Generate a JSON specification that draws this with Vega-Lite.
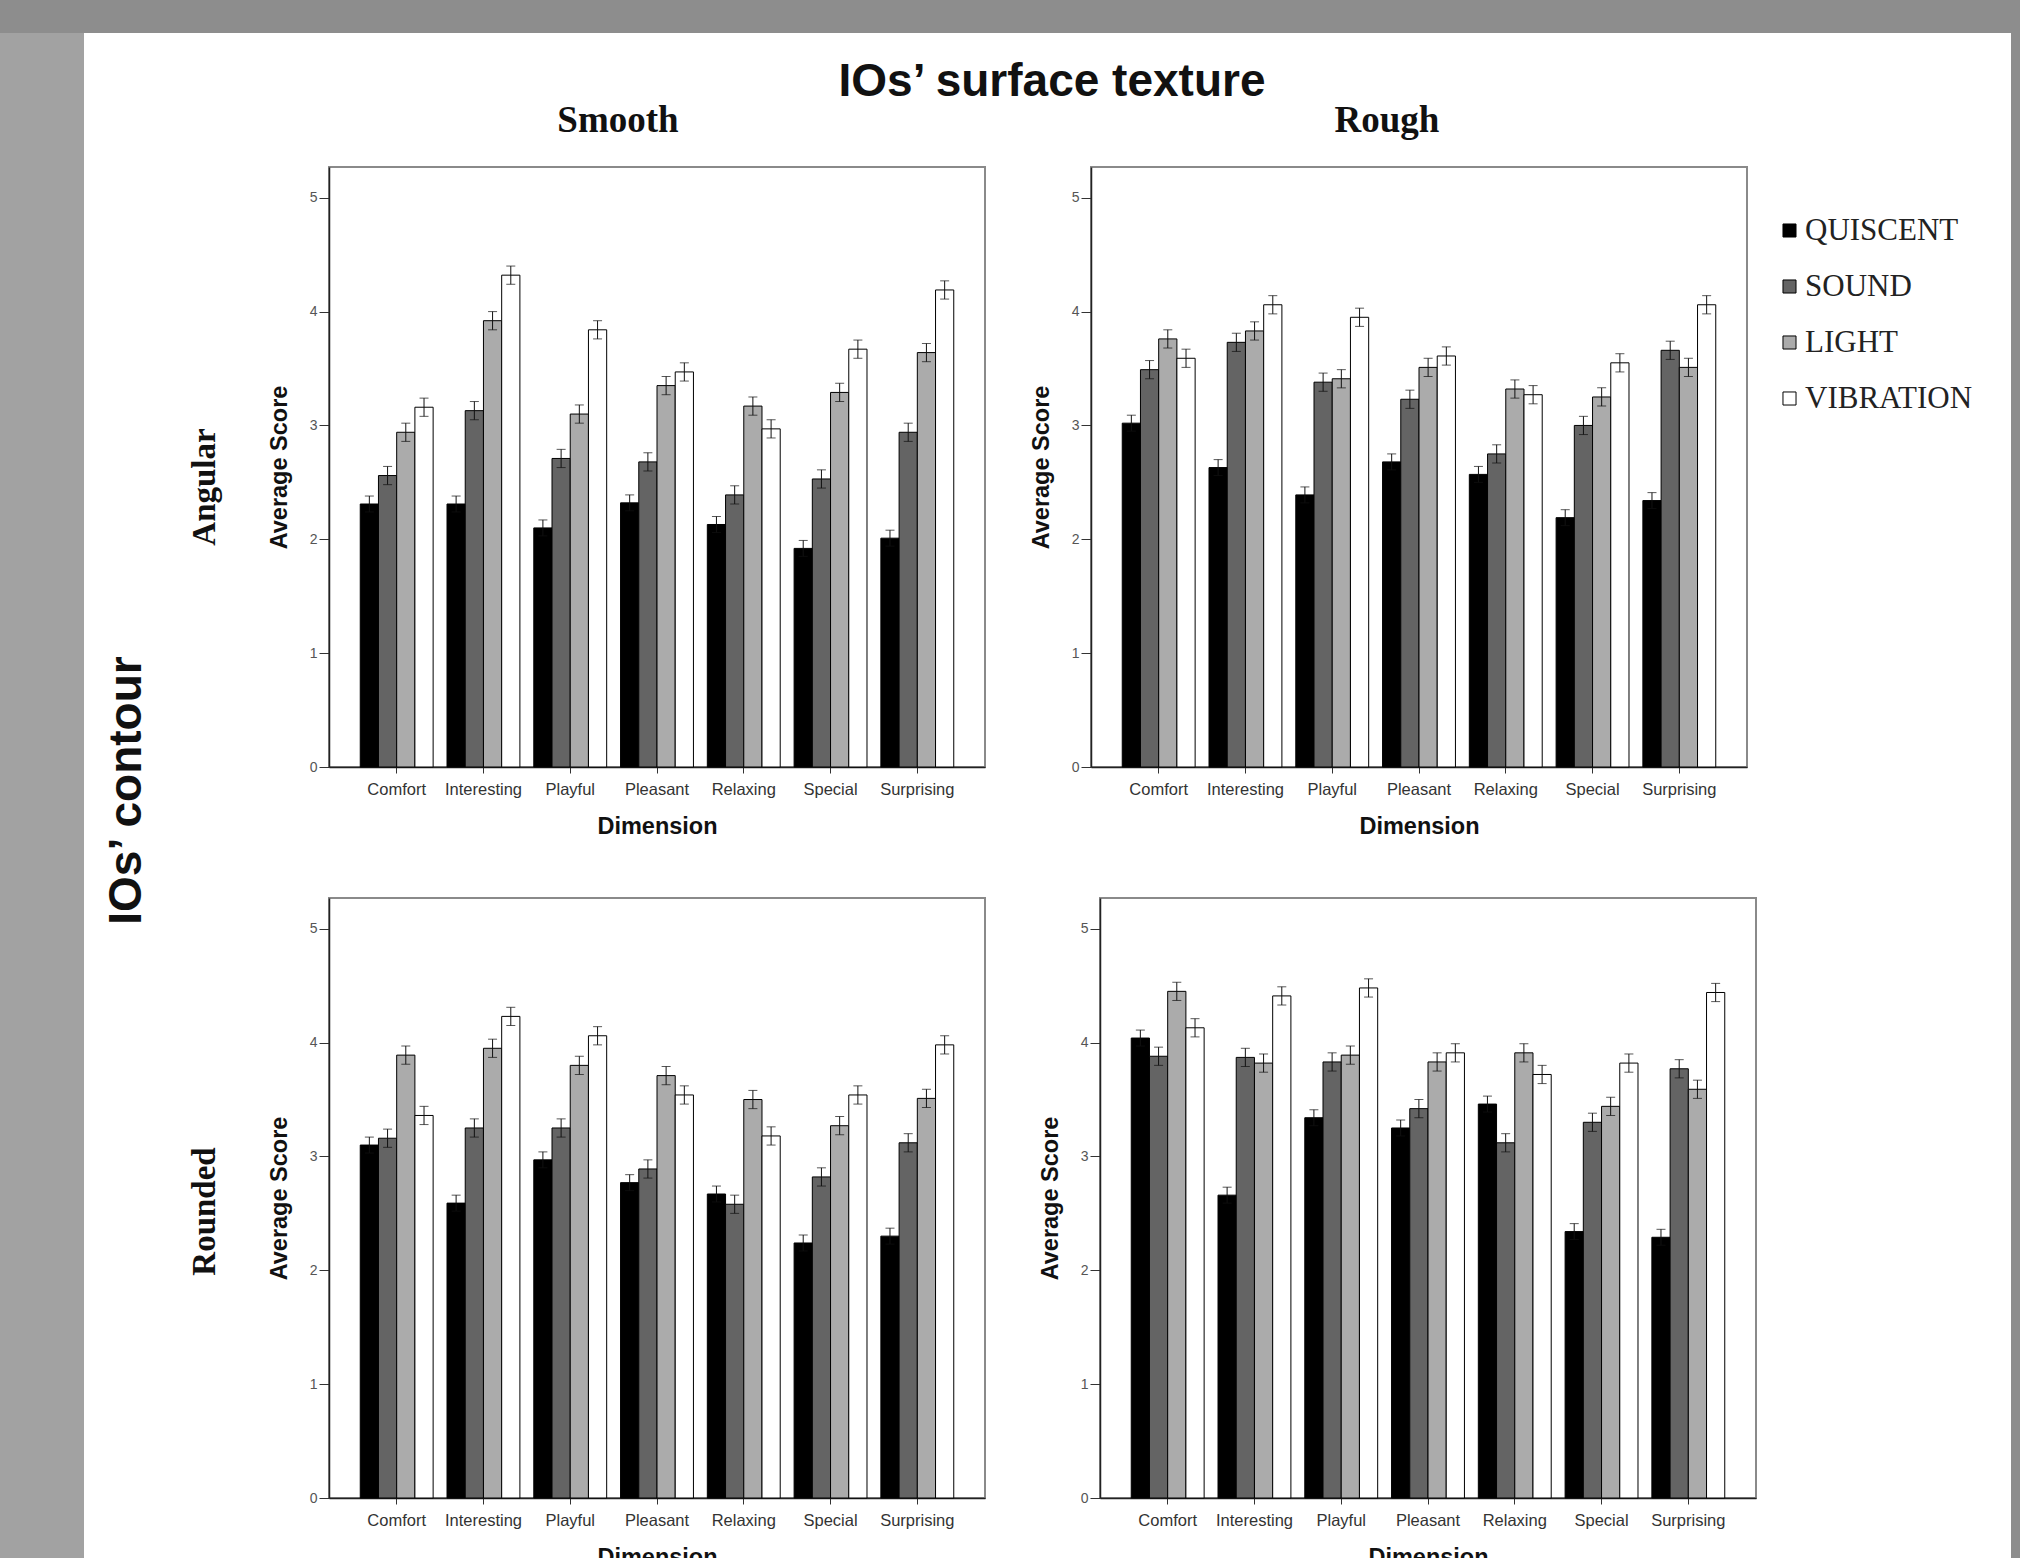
{
  "$schema": "https://vega.github.io/schema/vega-lite/v6.json",
  "background": "white",
  "padding": 0,
  "spacing": 0,
  "datasets": {
    "scores": [
      {"texture":"Smooth","contour":"Angular","dimension":"Comfort","condition":"QUISCENT","score":2.31,"err":0.07},
      {"texture":"Smooth","contour":"Angular","dimension":"Comfort","condition":"SOUND","score":2.56,"err":0.08},
      {"texture":"Smooth","contour":"Angular","dimension":"Comfort","condition":"LIGHT","score":2.94,"err":0.08},
      {"texture":"Smooth","contour":"Angular","dimension":"Comfort","condition":"VIBRATION","score":3.16,"err":0.08},
      {"texture":"Smooth","contour":"Angular","dimension":"Interesting","condition":"QUISCENT","score":2.31,"err":0.07},
      {"texture":"Smooth","contour":"Angular","dimension":"Interesting","condition":"SOUND","score":3.13,"err":0.08},
      {"texture":"Smooth","contour":"Angular","dimension":"Interesting","condition":"LIGHT","score":3.92,"err":0.08},
      {"texture":"Smooth","contour":"Angular","dimension":"Interesting","condition":"VIBRATION","score":4.32,"err":0.08},
      {"texture":"Smooth","contour":"Angular","dimension":"Playful","condition":"QUISCENT","score":2.10,"err":0.07},
      {"texture":"Smooth","contour":"Angular","dimension":"Playful","condition":"SOUND","score":2.71,"err":0.08},
      {"texture":"Smooth","contour":"Angular","dimension":"Playful","condition":"LIGHT","score":3.10,"err":0.08},
      {"texture":"Smooth","contour":"Angular","dimension":"Playful","condition":"VIBRATION","score":3.84,"err":0.08},
      {"texture":"Smooth","contour":"Angular","dimension":"Pleasant","condition":"QUISCENT","score":2.32,"err":0.07},
      {"texture":"Smooth","contour":"Angular","dimension":"Pleasant","condition":"SOUND","score":2.68,"err":0.08},
      {"texture":"Smooth","contour":"Angular","dimension":"Pleasant","condition":"LIGHT","score":3.35,"err":0.08},
      {"texture":"Smooth","contour":"Angular","dimension":"Pleasant","condition":"VIBRATION","score":3.47,"err":0.08},
      {"texture":"Smooth","contour":"Angular","dimension":"Relaxing","condition":"QUISCENT","score":2.13,"err":0.07},
      {"texture":"Smooth","contour":"Angular","dimension":"Relaxing","condition":"SOUND","score":2.39,"err":0.08},
      {"texture":"Smooth","contour":"Angular","dimension":"Relaxing","condition":"LIGHT","score":3.17,"err":0.08},
      {"texture":"Smooth","contour":"Angular","dimension":"Relaxing","condition":"VIBRATION","score":2.97,"err":0.08},
      {"texture":"Smooth","contour":"Angular","dimension":"Special","condition":"QUISCENT","score":1.92,"err":0.07},
      {"texture":"Smooth","contour":"Angular","dimension":"Special","condition":"SOUND","score":2.53,"err":0.08},
      {"texture":"Smooth","contour":"Angular","dimension":"Special","condition":"LIGHT","score":3.29,"err":0.08},
      {"texture":"Smooth","contour":"Angular","dimension":"Special","condition":"VIBRATION","score":3.67,"err":0.08},
      {"texture":"Smooth","contour":"Angular","dimension":"Surprising","condition":"QUISCENT","score":2.01,"err":0.07},
      {"texture":"Smooth","contour":"Angular","dimension":"Surprising","condition":"SOUND","score":2.94,"err":0.08},
      {"texture":"Smooth","contour":"Angular","dimension":"Surprising","condition":"LIGHT","score":3.64,"err":0.08},
      {"texture":"Smooth","contour":"Angular","dimension":"Surprising","condition":"VIBRATION","score":4.19,"err":0.08},

      {"texture":"Rough","contour":"Angular","dimension":"Comfort","condition":"QUISCENT","score":3.02,"err":0.07},
      {"texture":"Rough","contour":"Angular","dimension":"Comfort","condition":"SOUND","score":3.49,"err":0.08},
      {"texture":"Rough","contour":"Angular","dimension":"Comfort","condition":"LIGHT","score":3.76,"err":0.08},
      {"texture":"Rough","contour":"Angular","dimension":"Comfort","condition":"VIBRATION","score":3.59,"err":0.08},
      {"texture":"Rough","contour":"Angular","dimension":"Interesting","condition":"QUISCENT","score":2.63,"err":0.07},
      {"texture":"Rough","contour":"Angular","dimension":"Interesting","condition":"SOUND","score":3.73,"err":0.08},
      {"texture":"Rough","contour":"Angular","dimension":"Interesting","condition":"LIGHT","score":3.83,"err":0.08},
      {"texture":"Rough","contour":"Angular","dimension":"Interesting","condition":"VIBRATION","score":4.06,"err":0.08},
      {"texture":"Rough","contour":"Angular","dimension":"Playful","condition":"QUISCENT","score":2.39,"err":0.07},
      {"texture":"Rough","contour":"Angular","dimension":"Playful","condition":"SOUND","score":3.38,"err":0.08},
      {"texture":"Rough","contour":"Angular","dimension":"Playful","condition":"LIGHT","score":3.41,"err":0.08},
      {"texture":"Rough","contour":"Angular","dimension":"Playful","condition":"VIBRATION","score":3.95,"err":0.08},
      {"texture":"Rough","contour":"Angular","dimension":"Pleasant","condition":"QUISCENT","score":2.68,"err":0.07},
      {"texture":"Rough","contour":"Angular","dimension":"Pleasant","condition":"SOUND","score":3.23,"err":0.08},
      {"texture":"Rough","contour":"Angular","dimension":"Pleasant","condition":"LIGHT","score":3.51,"err":0.08},
      {"texture":"Rough","contour":"Angular","dimension":"Pleasant","condition":"VIBRATION","score":3.61,"err":0.08},
      {"texture":"Rough","contour":"Angular","dimension":"Relaxing","condition":"QUISCENT","score":2.57,"err":0.07},
      {"texture":"Rough","contour":"Angular","dimension":"Relaxing","condition":"SOUND","score":2.75,"err":0.08},
      {"texture":"Rough","contour":"Angular","dimension":"Relaxing","condition":"LIGHT","score":3.32,"err":0.08},
      {"texture":"Rough","contour":"Angular","dimension":"Relaxing","condition":"VIBRATION","score":3.27,"err":0.08},
      {"texture":"Rough","contour":"Angular","dimension":"Special","condition":"QUISCENT","score":2.19,"err":0.07},
      {"texture":"Rough","contour":"Angular","dimension":"Special","condition":"SOUND","score":3.00,"err":0.08},
      {"texture":"Rough","contour":"Angular","dimension":"Special","condition":"LIGHT","score":3.25,"err":0.08},
      {"texture":"Rough","contour":"Angular","dimension":"Special","condition":"VIBRATION","score":3.55,"err":0.08},
      {"texture":"Rough","contour":"Angular","dimension":"Surprising","condition":"QUISCENT","score":2.34,"err":0.07},
      {"texture":"Rough","contour":"Angular","dimension":"Surprising","condition":"SOUND","score":3.66,"err":0.08},
      {"texture":"Rough","contour":"Angular","dimension":"Surprising","condition":"LIGHT","score":3.51,"err":0.08},
      {"texture":"Rough","contour":"Angular","dimension":"Surprising","condition":"VIBRATION","score":4.06,"err":0.08},

      {"texture":"Smooth","contour":"Rounded","dimension":"Comfort","condition":"QUISCENT","score":3.10,"err":0.07},
      {"texture":"Smooth","contour":"Rounded","dimension":"Comfort","condition":"SOUND","score":3.16,"err":0.08},
      {"texture":"Smooth","contour":"Rounded","dimension":"Comfort","condition":"LIGHT","score":3.89,"err":0.08},
      {"texture":"Smooth","contour":"Rounded","dimension":"Comfort","condition":"VIBRATION","score":3.36,"err":0.08},
      {"texture":"Smooth","contour":"Rounded","dimension":"Interesting","condition":"QUISCENT","score":2.59,"err":0.07},
      {"texture":"Smooth","contour":"Rounded","dimension":"Interesting","condition":"SOUND","score":3.25,"err":0.08},
      {"texture":"Smooth","contour":"Rounded","dimension":"Interesting","condition":"LIGHT","score":3.95,"err":0.08},
      {"texture":"Smooth","contour":"Rounded","dimension":"Interesting","condition":"VIBRATION","score":4.23,"err":0.08},
      {"texture":"Smooth","contour":"Rounded","dimension":"Playful","condition":"QUISCENT","score":2.97,"err":0.07},
      {"texture":"Smooth","contour":"Rounded","dimension":"Playful","condition":"SOUND","score":3.25,"err":0.08},
      {"texture":"Smooth","contour":"Rounded","dimension":"Playful","condition":"LIGHT","score":3.80,"err":0.08},
      {"texture":"Smooth","contour":"Rounded","dimension":"Playful","condition":"VIBRATION","score":4.06,"err":0.08},
      {"texture":"Smooth","contour":"Rounded","dimension":"Pleasant","condition":"QUISCENT","score":2.77,"err":0.07},
      {"texture":"Smooth","contour":"Rounded","dimension":"Pleasant","condition":"SOUND","score":2.89,"err":0.08},
      {"texture":"Smooth","contour":"Rounded","dimension":"Pleasant","condition":"LIGHT","score":3.71,"err":0.08},
      {"texture":"Smooth","contour":"Rounded","dimension":"Pleasant","condition":"VIBRATION","score":3.54,"err":0.08},
      {"texture":"Smooth","contour":"Rounded","dimension":"Relaxing","condition":"QUISCENT","score":2.67,"err":0.07},
      {"texture":"Smooth","contour":"Rounded","dimension":"Relaxing","condition":"SOUND","score":2.58,"err":0.08},
      {"texture":"Smooth","contour":"Rounded","dimension":"Relaxing","condition":"LIGHT","score":3.50,"err":0.08},
      {"texture":"Smooth","contour":"Rounded","dimension":"Relaxing","condition":"VIBRATION","score":3.18,"err":0.08},
      {"texture":"Smooth","contour":"Rounded","dimension":"Special","condition":"QUISCENT","score":2.24,"err":0.07},
      {"texture":"Smooth","contour":"Rounded","dimension":"Special","condition":"SOUND","score":2.82,"err":0.08},
      {"texture":"Smooth","contour":"Rounded","dimension":"Special","condition":"LIGHT","score":3.27,"err":0.08},
      {"texture":"Smooth","contour":"Rounded","dimension":"Special","condition":"VIBRATION","score":3.54,"err":0.08},
      {"texture":"Smooth","contour":"Rounded","dimension":"Surprising","condition":"QUISCENT","score":2.30,"err":0.07},
      {"texture":"Smooth","contour":"Rounded","dimension":"Surprising","condition":"SOUND","score":3.12,"err":0.08},
      {"texture":"Smooth","contour":"Rounded","dimension":"Surprising","condition":"LIGHT","score":3.51,"err":0.08},
      {"texture":"Smooth","contour":"Rounded","dimension":"Surprising","condition":"VIBRATION","score":3.98,"err":0.08},

      {"texture":"Rough","contour":"Rounded","dimension":"Comfort","condition":"QUISCENT","score":4.04,"err":0.07},
      {"texture":"Rough","contour":"Rounded","dimension":"Comfort","condition":"SOUND","score":3.88,"err":0.08},
      {"texture":"Rough","contour":"Rounded","dimension":"Comfort","condition":"LIGHT","score":4.45,"err":0.08},
      {"texture":"Rough","contour":"Rounded","dimension":"Comfort","condition":"VIBRATION","score":4.13,"err":0.08},
      {"texture":"Rough","contour":"Rounded","dimension":"Interesting","condition":"QUISCENT","score":2.66,"err":0.07},
      {"texture":"Rough","contour":"Rounded","dimension":"Interesting","condition":"SOUND","score":3.87,"err":0.08},
      {"texture":"Rough","contour":"Rounded","dimension":"Interesting","condition":"LIGHT","score":3.82,"err":0.08},
      {"texture":"Rough","contour":"Rounded","dimension":"Interesting","condition":"VIBRATION","score":4.41,"err":0.08},
      {"texture":"Rough","contour":"Rounded","dimension":"Playful","condition":"QUISCENT","score":3.34,"err":0.07},
      {"texture":"Rough","contour":"Rounded","dimension":"Playful","condition":"SOUND","score":3.83,"err":0.08},
      {"texture":"Rough","contour":"Rounded","dimension":"Playful","condition":"LIGHT","score":3.89,"err":0.08},
      {"texture":"Rough","contour":"Rounded","dimension":"Playful","condition":"VIBRATION","score":4.48,"err":0.08},
      {"texture":"Rough","contour":"Rounded","dimension":"Pleasant","condition":"QUISCENT","score":3.25,"err":0.07},
      {"texture":"Rough","contour":"Rounded","dimension":"Pleasant","condition":"SOUND","score":3.42,"err":0.08},
      {"texture":"Rough","contour":"Rounded","dimension":"Pleasant","condition":"LIGHT","score":3.83,"err":0.08},
      {"texture":"Rough","contour":"Rounded","dimension":"Pleasant","condition":"VIBRATION","score":3.91,"err":0.08},
      {"texture":"Rough","contour":"Rounded","dimension":"Relaxing","condition":"QUISCENT","score":3.46,"err":0.07},
      {"texture":"Rough","contour":"Rounded","dimension":"Relaxing","condition":"SOUND","score":3.12,"err":0.08},
      {"texture":"Rough","contour":"Rounded","dimension":"Relaxing","condition":"LIGHT","score":3.91,"err":0.08},
      {"texture":"Rough","contour":"Rounded","dimension":"Relaxing","condition":"VIBRATION","score":3.72,"err":0.08},
      {"texture":"Rough","contour":"Rounded","dimension":"Special","condition":"QUISCENT","score":2.34,"err":0.07},
      {"texture":"Rough","contour":"Rounded","dimension":"Special","condition":"SOUND","score":3.30,"err":0.08},
      {"texture":"Rough","contour":"Rounded","dimension":"Special","condition":"LIGHT","score":3.44,"err":0.08},
      {"texture":"Rough","contour":"Rounded","dimension":"Special","condition":"VIBRATION","score":3.82,"err":0.08},
      {"texture":"Rough","contour":"Rounded","dimension":"Surprising","condition":"QUISCENT","score":2.29,"err":0.07},
      {"texture":"Rough","contour":"Rounded","dimension":"Surprising","condition":"SOUND","score":3.77,"err":0.08},
      {"texture":"Rough","contour":"Rounded","dimension":"Surprising","condition":"LIGHT","score":3.59,"err":0.08},
      {"texture":"Rough","contour":"Rounded","dimension":"Surprising","condition":"VIBRATION","score":4.44,"err":0.08}
    ]
  },
  "config": {
    "font": "Liberation Sans",
    "view": {"stroke": "#8a8a8a", "strokeWidth": 2},
    "axis": {"grid": false, "domainColor": "#222", "domainWidth": 1.5, "tickColor": "#333", "tickSize": 6, "labelColor": "#333", "titleColor": "#111", "labelFont": "Liberation Sans", "titleFont": "Liberation Sans", "titleFontWeight": "bold", "titleFontSize": 23.5},
    "axisX": {"labelFontSize": 16.5, "labelAngle": 0, "labelPadding": 8, "titlePadding": 17},
    "axisY": {"labelFontSize": 14, "labelColor": "#555", "tickSize": 10, "labelPadding": 2, "titlePadding": 18},
    "title": {"color": "#111"}
  },
  "resolve": {"scale": {"color": "independent"}, "legend": {"color": "independent"}},
  "vconcat": [
    {"width": 2020, "height": 33, "data": {"values": []}, "mark": "point", "view": {"fill": "#8d8d8d", "stroke": null}},
    {
      "spacing": 20,
      "resolve": {"scale": {"color": "independent"}, "legend": {"color": "independent"}},
      "hconcat": [
        {"width": 84, "height": 1560, "data": {"values": []}, "mark": "point", "view": {"fill": "#a2a2a2", "stroke": null}},
        {
          "spacing": -4,
          "resolve": {"scale": {"color": "independent"}, "legend": {"color": "independent"}},
          "vconcat": [
            {
              "width": 1446, "height": 1,
              "data": {"values": []}, "mark": "point", "view": {"stroke": null},
              "title": {"text": "IOs’ surface texture", "orient": "bottom", "font": "Liberation Sans", "fontSize": 46, "fontWeight": "bold", "anchor": "middle", "offset": 26}
            },
            {
              "title": {"text": "IOs’ contour", "orient": "left", "font": "Liberation Sans", "fontSize": 46, "fontWeight": "bold", "anchor": "middle", "offset": 38, "dx": 45},
              "spacing": 58,
              "resolve": {"scale": {"color": "independent"}, "legend": {"color": "independent"}},
              "vconcat": [
                {
                  "title": {"text": "Angular", "orient": "left", "font": "Liberation Serif", "fontSize": 33, "fontWeight": "bold", "anchor": "middle", "offset": 44, "dx": -17},
                  "spacing": 42,
                  "resolve": {"scale": {"color": "independent"}, "legend": {"color": "independent"}},
                  "hconcat": [
                    {
                      "title": {"text": "Smooth", "font": "Liberation Serif", "fontSize": 37, "fontWeight": "bold", "anchor": "middle", "offset": 27, "dx": -39},
                      "width": 656, "height": 600,
                      "data": {"name": "scores"},
                      "transform": [{"filter": "datum.texture === 'Smooth' && datum.contour === 'Angular'"}],
                      "encoding": {
                        "x": {"field": "dimension", "type": "nominal", "sort": ["Comfort","Interesting","Playful","Pleasant","Relaxing","Special","Surprising"], "scale": {"paddingInner": 0.16, "paddingOuter": 0.36}, "axis": {"title": "Dimension"}},
                        "xOffset": {"field": "condition", "type": "nominal", "sort": ["QUISCENT","SOUND","LIGHT","VIBRATION"], "scale": {"paddingInner": 0, "paddingOuter": 0}},
                        "y": {"field": "score", "type": "quantitative", "scale": {"domain": [0, 5.27], "nice": false}, "axis": {"title": "Average Score", "values": [0,1,2,3,4,5]}}
                      },
                      "layer": [
                        {"mark": {"type": "bar", "stroke": "#000", "strokeWidth": 1}, "encoding": {"color": {"field": "condition", "type": "nominal", "sort": ["QUISCENT","SOUND","LIGHT","VIBRATION"], "scale": {"domain": ["QUISCENT","SOUND","LIGHT","VIBRATION"], "range": ["#000000","#646464","#ababab","#ffffff"]}, "legend": null}}},
                        {"mark": {"type": "errorbar", "ticks": {"size": 9}, "color": "#111"}, "encoding": {"yError": {"field": "err"}}}
                      ]
                    },
                    {
                      "title": {"text": "Rough", "font": "Liberation Serif", "fontSize": 37, "fontWeight": "bold", "anchor": "middle", "offset": 27, "dx": -32},
                      "width": 656, "height": 600,
                      "data": {"name": "scores"},
                      "transform": [{"filter": "datum.texture === 'Rough' && datum.contour === 'Angular'"}],
                      "encoding": {
                        "x": {"field": "dimension", "type": "nominal", "sort": ["Comfort","Interesting","Playful","Pleasant","Relaxing","Special","Surprising"], "scale": {"paddingInner": 0.16, "paddingOuter": 0.36}, "axis": {"title": "Dimension"}},
                        "xOffset": {"field": "condition", "type": "nominal", "sort": ["QUISCENT","SOUND","LIGHT","VIBRATION"], "scale": {"paddingInner": 0, "paddingOuter": 0}},
                        "y": {"field": "score", "type": "quantitative", "scale": {"domain": [0, 5.27], "nice": false}, "axis": {"title": "Average Score", "values": [0,1,2,3,4,5]}}
                      },
                      "layer": [
                        {"mark": {"type": "bar", "stroke": "#000", "strokeWidth": 1}, "encoding": {"color": {"field": "condition", "type": "nominal", "sort": ["QUISCENT","SOUND","LIGHT","VIBRATION"], "scale": {"domain": ["QUISCENT","SOUND","LIGHT","VIBRATION"], "range": ["#000000","#646464","#ababab","#ffffff"]}, "legend": {"orient": "none", "legendX": 666, "legendY": 31, "title": null, "padding": 17, "labelFont": "Liberation Serif", "labelFontSize": 31, "labelColor": "#222", "labelOffset": 0, "labelLimit": 400, "symbolType": "square", "symbolSize": 170, "symbolStrokeColor": "#000", "symbolStrokeWidth": 1, "rowPadding": 24}}}},
                        {"mark": {"type": "errorbar", "ticks": {"size": 9}, "color": "#111"}, "encoding": {"yError": {"field": "err"}}}
                      ]
                    }
                  ]
                },
                {
                  "title": {"text": "Rounded", "orient": "left", "font": "Liberation Serif", "fontSize": 33, "fontWeight": "bold", "anchor": "middle", "offset": 44, "dx": 22},
                  "spacing": 51,
                  "resolve": {"scale": {"color": "independent"}, "legend": {"color": "independent"}},
                  "hconcat": [
                    {
                      "width": 656, "height": 600,
                      "data": {"name": "scores"},
                      "transform": [{"filter": "datum.texture === 'Smooth' && datum.contour === 'Rounded'"}],
                      "encoding": {
                        "x": {"field": "dimension", "type": "nominal", "sort": ["Comfort","Interesting","Playful","Pleasant","Relaxing","Special","Surprising"], "scale": {"paddingInner": 0.16, "paddingOuter": 0.36}, "axis": {"title": "Dimension"}},
                        "xOffset": {"field": "condition", "type": "nominal", "sort": ["QUISCENT","SOUND","LIGHT","VIBRATION"], "scale": {"paddingInner": 0, "paddingOuter": 0}},
                        "y": {"field": "score", "type": "quantitative", "scale": {"domain": [0, 5.27], "nice": false}, "axis": {"title": "Average Score", "values": [0,1,2,3,4,5]}}
                      },
                      "layer": [
                        {"mark": {"type": "bar", "stroke": "#000", "strokeWidth": 1}, "encoding": {"color": {"field": "condition", "type": "nominal", "sort": ["QUISCENT","SOUND","LIGHT","VIBRATION"], "scale": {"domain": ["QUISCENT","SOUND","LIGHT","VIBRATION"], "range": ["#000000","#646464","#ababab","#ffffff"]}, "legend": null}}},
                        {"mark": {"type": "errorbar", "ticks": {"size": 9}, "color": "#111"}, "encoding": {"yError": {"field": "err"}}}
                      ]
                    },
                    {
                      "width": 656, "height": 600,
                      "data": {"name": "scores"},
                      "transform": [{"filter": "datum.texture === 'Rough' && datum.contour === 'Rounded'"}],
                      "encoding": {
                        "x": {"field": "dimension", "type": "nominal", "sort": ["Comfort","Interesting","Playful","Pleasant","Relaxing","Special","Surprising"], "scale": {"paddingInner": 0.16, "paddingOuter": 0.36}, "axis": {"title": "Dimension"}},
                        "xOffset": {"field": "condition", "type": "nominal", "sort": ["QUISCENT","SOUND","LIGHT","VIBRATION"], "scale": {"paddingInner": 0, "paddingOuter": 0}},
                        "y": {"field": "score", "type": "quantitative", "scale": {"domain": [0, 5.27], "nice": false}, "axis": {"title": "Average Score", "values": [0,1,2,3,4,5]}}
                      },
                      "layer": [
                        {"mark": {"type": "bar", "stroke": "#000", "strokeWidth": 1}, "encoding": {"color": {"field": "condition", "type": "nominal", "sort": ["QUISCENT","SOUND","LIGHT","VIBRATION"], "scale": {"domain": ["QUISCENT","SOUND","LIGHT","VIBRATION"], "range": ["#000000","#646464","#ababab","#ffffff"]}, "legend": null}}},
                        {"mark": {"type": "errorbar", "ticks": {"size": 9}, "color": "#111"}, "encoding": {"yError": {"field": "err"}}}
                      ]
                    }
                  ]
                }
              ]
            }
          ]
        },
        {"width": 40, "height": 1560, "data": {"values": []}, "mark": "point", "view": {"fill": "#8d8d8d", "stroke": null}}
      ]
    }
  ]
}
